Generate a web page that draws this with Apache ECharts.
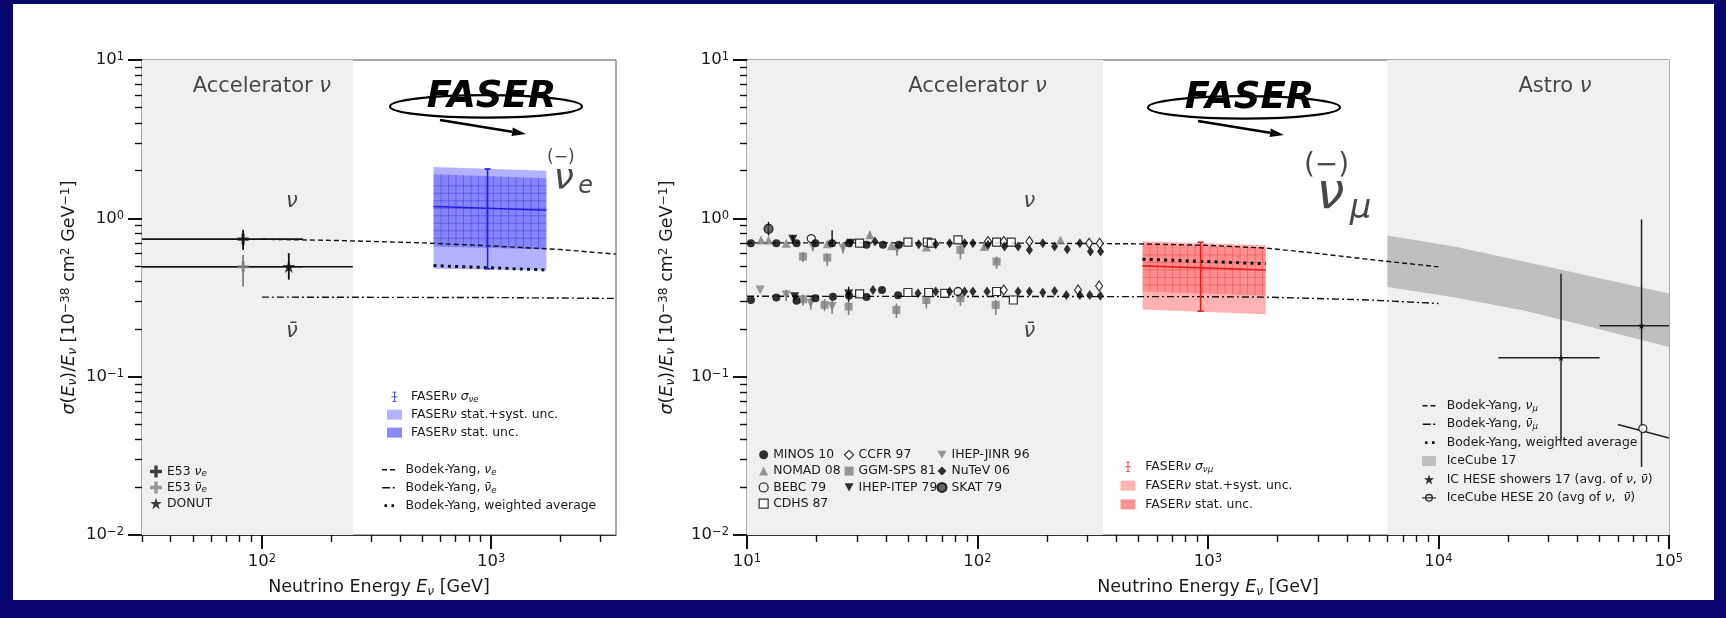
<!DOCTYPE html>
<html>
<head>
<meta charset="utf-8">
<title>FASERnu cross sections</title>
<script src="https://cdn.jsdelivr.net/npm/echarts@6.0.0/dist/echarts.min.js"></script>
<style>
  html, body { margin: 0; padding: 0; background: #06066c; }
  #chart { width: 1726px; height: 618px; }
</style>
</head>
<body>
<div id="chart"></div>
<script>
// axis ranges and decade ticks
const xRangeL = [30, 3500]
const xRangeR = [10, 100000]
const yRange = [0.01, 10]
const xTicksL = [100, 1000]
const xTicksR = [10, 100, 1000, 10000, 100000]
const yTicks = [0.01, 0.1, 1, 10]

// shaded regions, GeV
const accelL = [[30, 250]]
const accelR = [[10, 350]]
const astroR = [[6000, 100000]]

// left panel: electron neutrinos
const e53Nu = [[82.8, 0.739]]
const e53NuY = [[82.8, 0.632, 0.846]]
const e53NuX = [[30, 151, 0.739]]
const e53NuBar = [[82.8, 0.494]]
const e53NuBarY = [[82.8, 0.371, 0.588]]
const e53NuBarX = [[30, 151, 0.494]]
const donut = [[131, 0.495]]
const donutY = [[131, 0.41, 0.603]]
const donutX = [[30, 249, 0.495]]
const byNue = [[100, 0.738], [200, 0.726], [300, 0.715], [500, 0.70], [1000, 0.670], [2000, 0.635], [3500, 0.594]]
const byNueBar = [[100, 0.318], [1000, 0.316], [3500, 0.312]]
const byAvgL = [[560, 0.503], [1740, 0.472]]
// boxes: [E from, E to, top at from, top at to, bottom at from, bottom at to]
const faserNueTotal = [[560, 1740, 2.11, 2.0, 0.48, 0.47]]
const faserNueStat = [[560, 1740, 1.90, 1.79, 0.664, 0.635]]
const faserNueMid = [[560, 1.187], [1740, 1.125]]
const faserNueErr = [[964, 0.48, 2.05]]

// right panel: muon neutrinos, accelerator data (nu and nubar rows)
const minos = [[10.4, 0.697], [13.4, 0.697], [16.4, 0.697], [19.8, 0.697], [23.4, 0.697], [27.7, 0.697], [33.0, 0.68], [38.9, 0.68], [45.6, 0.68],
  [10.4, 0.305], [13.4, 0.316], [16.4, 0.302], [19.8, 0.313], [23.6, 0.320], [27.7, 0.324], [33.0, 0.318], [38.5, 0.353], [45.2, 0.327]]
const minosErr = [[23.4, 0.66, 0.84]]
const nomad = [[11.5, 0.731], [12.4, 0.731], [14.8, 0.697], [22.3, 0.69], [34.1, 0.787], [42.3, 0.670], [60.0, 0.66], [107, 0.663], [229, 0.731]]
const nomadErr = [[34.1, 0.74, 0.83], [107, 0.63, 0.70]]
const bebc = [[19.0, 0.745], [82.3, 0.345]]
const cdhs = [[30.8, 0.697], [49.9, 0.707], [60.6, 0.707], [63.1, 0.697], [82.3, 0.731], [121, 0.707], [140, 0.707],
  [30.8, 0.333], [49.9, 0.340], [61.4, 0.340], [72.1, 0.336], [121, 0.345], [143, 0.305]]
const ccfr = [[111, 0.713], [130, 0.713], [168, 0.713], [305, 0.697], [339, 0.697], [130, 0.353], [273, 0.353], [337, 0.374]]
const ggm = [[17.5, 0.574], [22.3, 0.565], [84.3, 0.632], [121, 0.533],
  [17.5, 0.308], [21.7, 0.284], [27.6, 0.277], [44.5, 0.264], [60.0, 0.305], [84.3, 0.313], [120, 0.284]]
const ggmErr = [[17.5, 0.53, 0.61], [22.3, 0.50, 0.60], [84.3, 0.55, 0.68], [121, 0.48, 0.574],
  [17.5, 0.28, 0.33], [21.7, 0.26, 0.31], [27.6, 0.245, 0.31], [44.5, 0.235, 0.29], [60.0, 0.27, 0.335], [84.3, 0.28, 0.34], [120, 0.245, 0.305]]
const ihepJinr = [[19.3, 0.663], [26.1, 0.648], [44.8, 0.639], [11.4, 0.353], [14.8, 0.328], [18.9, 0.291], [23.4, 0.277]]
const ihepJinrErr = [[19.3, 0.62, 0.71], [26.1, 0.60, 0.70], [44.8, 0.58, 0.69], [14.8, 0.30, 0.355], [18.9, 0.265, 0.32], [23.4, 0.25, 0.305]]
const ihepItep = [[15.8, 0.739], [28.2, 0.697], [16.1, 0.320], [27.6, 0.333]]
const ihepItepErr = [[15.8, 0.69, 0.78], [27.6, 0.30, 0.37]]
const nutev = [[35.9, 0.713], [55.6, 0.687], [65.9, 0.687], [75.7, 0.697], [87.9, 0.697], [95.5, 0.697], [111, 0.68], [131, 0.663],
  [150, 0.663], [168, 0.632], [192, 0.697], [216, 0.663], [245, 0.639], [278, 0.697], [309, 0.617], [342, 0.617],
  [35.2, 0.353], [55.2, 0.336], [65.9, 0.345], [75.7, 0.345], [87.9, 0.345], [95.5, 0.345], [110, 0.345], [150, 0.345],
  [168, 0.345], [192, 0.340], [216, 0.348], [243, 0.328], [278, 0.328], [307, 0.328], [341, 0.324]]
const skat = [[12.4, 0.859]]
const skatErr = [[12.4, 0.78, 0.95]]

const byNumu = [[10, 0.70], [100, 0.70], [500, 0.69], [1000, 0.675], [1800, 0.648], [3000, 0.60], [5000, 0.55], [10000, 0.494]]
const byNumuBar = [[10, 0.322], [1000, 0.32], [1800, 0.318], [5000, 0.305], [10000, 0.29]]
const byAvgR = [[520, 0.552], [1780, 0.517]]
const faserNumuTotal = [[520, 1780, 0.716, 0.675, 0.266, 0.248]]
const faserNumuStat = [[520, 1780, 0.69, 0.655, 0.345, 0.325]]
const faserNumuMid = [[520, 0.501], [1780, 0.472]]
const faserNumuErr = [[929, 0.259, 0.706]]

// astrophysical
const icE = [6000, 12000, 24000, 50000, 100000]
const icLo = [0.369, 0.315, 0.26, 0.199, 0.154]
const icHi = [0.778, 0.66, 0.53, 0.419, 0.335]
const hese17 = [[34000, 0.1316], [76000, 0.21]]
const hese17Y = [[34000, 0.0394, 0.447], [76000, 0.0269, 0.985]]
const hese17X = [[18200, 50000, 0.1316], [50000, 100000, 0.21]]
const hese20 = [[77000, 0.047]]
const hese20Seg = [[60000, 0.0499], [100000, 0.041]]

// text placed in data coordinates: [key, E, value]
const notesL = [['accel', 100, 6.8], ['nu', 135, 1.28], ['nubar', 135, 0.192], ['bar', 2010, 2.43], ['nuBig', 2070, 1.75], ['e', 2580, 1.594]]
const notesR = [['accel', 100, 6.8], ['astro', 32000, 6.8], ['nu', 168, 1.28], ['nubar', 168, 0.192],
  ['barBig', 3270, 2.16], ['nuHuge', 3400, 1.41], ['mu', 4590, 1.148]]

const ink = '#1a1a1a'
const gray = '#808080'
const font = 'DejaVu Sans'

function rich(fs) {
  const sm = Math.round(fs * 0.7 * 10) / 10
  const pad = Math.round(fs * 0.2)
  return {
    t: { fontSize: fs, lineHeight: fs + 2, padding: [pad, 0, pad, 0], color: ink, fontFamily: font },
    i: { fontSize: fs, lineHeight: fs + 2, padding: [pad, 0, pad, 0], fontStyle: 'italic', color: ink, fontFamily: font },
    s: { fontSize: sm, lineHeight: sm, verticalAlign: 'bottom', fontStyle: 'italic', color: ink, fontFamily: font },
    p: { fontSize: sm, lineHeight: sm, verticalAlign: 'top', color: ink, fontFamily: font }
  }
}

const tickRich = {
  b: { fontSize: 16.5, lineHeight: 17, padding: [3, 0, 0, 0], verticalAlign: 'bottom', color: ink, fontFamily: font },
  s: { fontSize: 11.5, lineHeight: 11.5, verticalAlign: 'top', color: ink, fontFamily: font }
}

function pow10Label(v) {
  const e = Math.round(Math.log10(v))
  return '{b|10}{s|' + String(e).replace('-', '−') + '}'
}

function minorTicks(range) {
  const out = []
  for (let d = 0.001; d <= 1e6; d *= 10) {
    for (let m = 2; m < 10; m++) {
      const v = +(m * d).toPrecision(3)
      if (v >= range[0] && v <= range[1]) out.push(v)
    }
  }
  return out
}

const yName = '{i|σ}{t|(}{i|E}{s|ν}{t|)/}{i|E}{s|ν}{t| [10}{p|−38}{t| cm}{p|2}{t| GeV}{p|−1}{t|]}'
const xName = '{t|Neutrino Energy }{i|E}{s|ν}{t| [GeV]}'

function axes(dim, gridIndex, range, majors, name, nameGap) {
  const pos = dim === 'x' ? 'bottom' : 'left'
  const major = {
    type: 'log', logBase: 10, gridIndex, position: pos, min: range[0], max: range[1],
    name, nameLocation: 'middle', nameGap, nameRotate: dim === 'y' ? 90 : 0,
    nameTextStyle: { rich: rich(17.5) },
    axisLine: { show: true, onZero: false, lineStyle: { color: '#333', width: 1 } },
    axisTick: { show: true, customValues: majors, length: 14, lineStyle: { color: '#111', width: 2 } },
    axisLabel: { customValues: majors, formatter: pow10Label, rich: tickRich, margin: 18 },
    splitLine: { show: false }
  }
  const minor = {
    type: 'log', logBase: 10, gridIndex, position: pos, min: range[0], max: range[1],
    axisLine: { show: false, onZero: false },
    axisTick: { show: true, customValues: minorTicks(range), length: 7, lineStyle: { color: '#111', width: 1.4 } },
    axisLabel: { show: false },
    splitLine: { show: false }
  }
  return [major, minor]
}

// series helpers, left panel uses axes 0, right panel axes 2
function shade(xi, rows, color, z) {
  return {
    type: 'custom', xAxisIndex: xi, yAxisIndex: xi, silent: true, z, data: rows,
    renderItem: (p, api) => {
      const a = api.coord([api.value(0), yRange[1]])
      const b = api.coord([api.value(1), yRange[0]])
      return { type: 'rect', shape: { x: a[0], y: a[1], width: b[0] - a[0], height: b[1] - a[1] }, style: { fill: color } }
    }
  }
}

function vErr(name, xi, rows, color, width, cap) {
  return {
    type: 'custom', name, xAxisIndex: xi, yAxisIndex: xi, silent: true, z: 5, clip: true, data: rows,
    itemStyle: { color },
    renderItem: (p, api) => {
      const a = api.coord([api.value(0), api.value(1)])
      const b = api.coord([api.value(0), api.value(2)])
      const kids = [{ type: 'line', shape: { x1: a[0], y1: a[1], x2: b[0], y2: b[1] }, style: { stroke: color, lineWidth: width } }]
      if (cap) {
        kids.push({ type: 'line', shape: { x1: a[0] - cap, y1: a[1], x2: a[0] + cap, y2: a[1] }, style: { stroke: color, lineWidth: width } })
        kids.push({ type: 'line', shape: { x1: b[0] - cap, y1: b[1], x2: b[0] + cap, y2: b[1] }, style: { stroke: color, lineWidth: width } })
      }
      return { type: 'group', children: kids }
    }
  }
}

function hErr(xi, rows, color, width) {
  return {
    type: 'custom', xAxisIndex: xi, yAxisIndex: xi, silent: true, z: 5, clip: true, data: rows,
    renderItem: (p, api) => {
      const a = api.coord([api.value(0), api.value(2)])
      const b = api.coord([api.value(1), api.value(2)])
      return { type: 'line', shape: { x1: a[0], y1: a[1], x2: b[0], y2: b[1] }, style: { stroke: color, lineWidth: width } }
    }
  }
}

function box(name, xi, rows, fill, hatch, z) {
  return {
    type: 'custom', name, xAxisIndex: xi, yAxisIndex: xi, silent: true, z, data: rows,
    itemStyle: { color: fill },
    renderItem: (p, api) => {
      const x0 = api.value(0), x1 = api.value(1)
      const lt = api.coord([x0, api.value(2)]), rt = api.coord([x1, api.value(3)])
      const lb = api.coord([x0, api.value(4)]), rb = api.coord([x1, api.value(5)])
      const kids = [{ type: 'polygon', shape: { points: [lt, rt, rb, lb] }, style: { fill } }]
      if (hatch) {
        const step = 7.5
        const hs = { stroke: hatch, lineWidth: 0.8 }
        for (let x = lt[0] + step; x < rt[0] - 1; x += step) {
          const t = (x - lt[0]) / (rt[0] - lt[0])
          kids.push({ type: 'line', shape: { x1: x, y1: lt[1] + t * (rt[1] - lt[1]), x2: x, y2: lb[1] + t * (rb[1] - lb[1]) }, style: hs })
        }
        const yTop = Math.max(lt[1], rt[1]), yBot = Math.min(lb[1], rb[1])
        for (let y = yTop + step; y < yBot - 1; y += step) {
          kids.push({ type: 'line', shape: { x1: lt[0], y1: y, x2: rt[0], y2: y }, style: hs })
        }
      }
      return { type: 'group', children: kids }
    }
  }
}

function curve(name, xi, data, dash, width, color, z) {
  return {
    type: 'line', name, xAxisIndex: xi, yAxisIndex: xi, data, symbol: 'none', silent: true, z: z || 4,
    lineStyle: { color, width, type: dash, cap: 'butt' }, itemStyle: { color }
  }
}

function points(name, xi, data, symbol, size, style) {
  return { type: 'scatter', name, xAxisIndex: xi, yAxisIndex: xi, data, symbol, symbolSize: size, itemStyle: style, silent: true, z: 6 }
}

const noteStyle = {
  accel: { formatter: '{t|Accelerator }{i|ν}', rich: { t: { fontSize: 21, color: ink }, i: { fontSize: 21, fontStyle: 'italic', color: ink } } },
  astro: { formatter: '{t|Astro }{i|ν}', rich: { t: { fontSize: 21, color: ink }, i: { fontSize: 21, fontStyle: 'italic', color: ink } } },
  nu: { formatter: 'ν', fontSize: 21, fontStyle: 'italic' },
  nubar: { formatter: 'ν̄', fontSize: 21, fontStyle: 'italic' },
  bar: { formatter: '(−)', fontSize: 17 },
  barBig: { formatter: '(−)', fontSize: 28 },
  nuBig: { formatter: 'ν', fontSize: 36, fontStyle: 'italic' },
  e: { formatter: 'e', fontSize: 24, fontStyle: 'italic' },
  nuHuge: { formatter: 'ν', fontSize: 50, fontStyle: 'italic' },
  mu: { formatter: 'μ', fontSize: 34, fontStyle: 'italic' }
}

function notes(xi, rows) {
  return {
    type: 'scatter', xAxisIndex: xi, yAxisIndex: xi, silent: true, z: 10, symbolSize: 1,
    itemStyle: { color: 'rgba(0,0,0,0)' },
    data: rows.map(r => ({
      value: [r[1], r[2]],
      label: Object.assign({ show: true, position: 'inside', color: ink, fontFamily: font }, noteStyle[r[0]])
    }))
  }
}

function iceBand(name, xi, color) {
  return {
    type: 'custom', name, xAxisIndex: xi, yAxisIndex: xi, silent: true, z: 2, clip: true,
    data: icE.map((e, i) => [e, icLo[i], icHi[i]]),
    itemStyle: { color },
    renderItem: (p, api) => {
      if (p.dataIndexInside !== 0) return null
      const top = [], bottom = []
      for (let i = 0; i < p.dataInsideLength; i++) {
        top.push(api.coord([api.value(0, i), api.value(2, i)]))
        bottom.unshift(api.coord([api.value(0, i), api.value(1, i)]))
      }
      return { type: 'polygon', shape: { points: top.concat(bottom) }, style: { fill: color } }
    }
  }
}

// legend icons; the tiny squares at y=-5 and y=5 only set the icon's box so the lines stay thin
const frame = 'M0,-5h0.01v0.01h-0.01zM0,5h0.01v0.01h-0.01z'
const dashIcon = 'path://' + frame + 'M0,-0.7h5v1.4h-5zM8,-0.7h5v1.4h-5z'
const dashDotIcon = 'path://' + frame + 'M0,-0.7h8v1.4h-8zM10.5,-0.7h2v1.4h-2z'
const dotIcon = 'path://' + frame + 'M1.5,-1.3h2.6v2.6h-2.6zM8.5,-1.3h2.6v2.6h-2.6z'
const plusIcon = 'path://M3.6,0h2.8v10h-2.8zM0,3.6h10v2.8h-10z'
const starIcon = 'path://M5,0L6.2,3.6L10,3.6L6.9,5.8L8.1,9.5L5,7.2L1.9,9.5L3.1,5.8L0,3.6L3.8,3.6Z'
const errIcon = 'path://M4.4,0h1.2v16h-1.2zM2,0h6v1.2h-6zM2,14.8h6v1.2h-6zM0,7.4h10v1.2h-10z'
const downTri = 'path://M0,0L10,0L5,9Z'
const ringBar = 'path://M1,5A4,4 0 1,1 9,5A4,4 0 1,1 1,5ZM2.4,5A2.6,2.6 0 1,0 7.6,5A2.6,2.6 0 1,0 2.4,5ZM-2,4.4h14v1.2h-14z'

const blue = '#1f1fe0'
const red = '#e81c1c'
const open = { color: 'rgba(0,0,0,0)', borderColor: '#000', borderWidth: 1.3 }
const white = { color: '#fff', borderColor: '#000', borderWidth: 1.2 }
const lineKey = { color: '#111', borderWidth: 0 }

const labels = {
  'E53 nue': '{t|E53 }{i|ν}{s|e}',
  'E53 nuebar': '{t|E53 }{i|ν̄}{s|e}',
  'FASER nue': '{t|FASER}{i|ν}{t| }{i|σ}{s|νe}',
  'FASER nue total': '{t|FASER}{i|ν}{t| stat.+syst. unc.}',
  'FASER nue stat': '{t|FASER}{i|ν}{t| stat. unc.}',
  'BY nue': '{t|Bodek-Yang, }{i|ν}{s|e}',
  'BY nuebar': '{t|Bodek-Yang, }{i|ν̄}{s|e}',
  'BY avg L': '{t|Bodek-Yang, weighted average}',
  'FASER numu': '{t|FASER}{i|ν}{t| }{i|σ}{s|νμ}',
  'FASER numu total': '{t|FASER}{i|ν}{t| stat.+syst. unc.}',
  'FASER numu stat': '{t|FASER}{i|ν}{t| stat. unc.}',
  'BY numu': '{t|Bodek-Yang, }{i|ν}{s|μ}',
  'BY numubar': '{t|Bodek-Yang, }{i|ν̄}{s|μ}',
  'BY avg R': '{t|Bodek-Yang, weighted average}',
  'IC HESE 17': '{t|IC HESE showers 17 (avg. of }{i|ν}{t|, }{i|ν̄}{t|)}',
  'IC HESE 20': '{t|IceCube HESE 20 (avg of }{i|ν}{t|,  }{i|ν̄}{t|)}'
}

function legend(left, top, gap, w, h, data, padLeft) {
  return {
    orient: 'vertical', left, top, itemGap: gap, itemWidth: w, itemHeight: h, padding: 0,
    selectedMode: false, data,
    formatter: n => labels[n] || '{t|' + n + '}',
    textStyle: { fontSize: 12.4, color: ink, fontFamily: font, rich: rich(12.4), padding: [0, 0, 0, padLeft || 0] }
  }
}

function logo(cx, cy) {
  return {
    type: 'group', x: cx, y: cy, silent: true, children: [
      { type: 'ellipse', shape: { cx: 0, cy: 0, rx: 96, ry: 11.3 }, style: { fill: 'none', stroke: '#000', lineWidth: 2.2 } },
      { type: 'polyline', shape: { points: [[-46, 13.6], [26, 25.4]] }, style: { fill: 'none', stroke: '#000', lineWidth: 2.6 } },
      { type: 'polygon', shape: { points: [[40, 27.6], [25.6, 29.6], [26.8, 21.2]] }, style: { fill: '#000' } },
      { type: 'text', x: 5.5, y: -9, style: { text: 'FASER', font: 'italic bold 37px "DejaVu Sans"', fill: '#000', align: 'center', verticalAlign: 'middle', textAlign: 'center', textVerticalAlign: 'middle' } }
    ]
  }
}

const [xL, xLm] = axes('x', 0, xRangeL, xTicksL, xName, 41)
const [xR, xRm] = axes('x', 1, xRangeR, xTicksR, xName, 41)
const [yL, yLm] = axes('y', 0, yRange, yTicks, yName, 61)
const [yR, yRm] = axes('y', 1, yRange, yTicks, yName, 64)

const option = {
  animation: false,
  backgroundColor: '#06066c',
  textStyle: { fontFamily: font },
  grid: [
    { left: 142, top: 60, width: 474, height: 475, show: true, borderColor: '#555', borderWidth: 1, backgroundColor: 'transparent', outerBoundsMode: 'none' },
    { left: 747, top: 60, width: 922, height: 475, show: true, borderColor: '#555', borderWidth: 1, backgroundColor: 'transparent', outerBoundsMode: 'none' }
  ],
  xAxis: [xL, xLm, xR, xRm],
  yAxis: [yL, yLm, yR, yRm],
  graphic: [
    { type: 'rect', z: -10, silent: true, shape: { x: 13, y: 4, width: 1701, height: 596 }, style: { fill: '#fff' } },
    logo(486, 106.4),
    logo(1244, 107.4)
  ],
  legend: [
    legend(150, 463.5, 0, 12, 12, [
      { name: 'E53 nue', icon: plusIcon },
      { name: 'E53 nuebar', icon: plusIcon },
      { name: 'DONUT', icon: starIcon }]),
    legend(387, 388.8, 1.9, 15, 10, [
      { name: 'FASER nue', icon: errIcon, itemStyle: { color: blue } },
      { name: 'FASER nue total', icon: 'rect' },
      { name: 'FASER nue stat', icon: 'rect', itemStyle: { color: 'rgba(60,60,245,0.6)' } }], 4),
    legend(382, 461.8, 1.9, 16, 10, [
      { name: 'BY nue', icon: dashIcon, itemStyle: lineKey },
      { name: 'BY nuebar', icon: dashDotIcon, itemStyle: lineKey },
      { name: 'BY avg L', icon: dotIcon, itemStyle: lineKey }], 4),
    legend(758.5, 446.8, 0.3, 9, 9, [
      'MINOS 10', 'NOMAD 08',
      { name: 'BEBC 79', itemStyle: open }, { name: 'CDHS 87', itemStyle: white }]),
    legend(844, 446.8, 0.3, 9, 9, [
      { name: 'CCFR 97', itemStyle: white }, 'GGM-SPS 81', 'IHEP-ITEP 79']),
    legend(936.5, 446.8, 0.3, 9, 9, ['IHEP-JINR 96', 'NuTeV 06', 'SKAT 79']),
    legend(1120.5, 458.8, 2.8, 15, 10, [
      { name: 'FASER numu', icon: errIcon, itemStyle: { color: red } },
      { name: 'FASER numu total', icon: 'rect' },
      { name: 'FASER numu stat', icon: 'rect', itemStyle: { color: 'rgba(245,60,60,0.55)' } }], 4.8),
    legend(1422, 397.8, 2.4, 14, 10, [
      { name: 'BY numu', icon: dashIcon, itemStyle: lineKey },
      { name: 'BY numubar', icon: dashDotIcon, itemStyle: lineKey },
      { name: 'BY avg R', icon: dotIcon, itemStyle: lineKey },
      { name: 'IceCube 17', icon: 'rect' },
      { name: 'IC HESE 17', icon: starIcon },
      { name: 'IC HESE 20', icon: ringBar, itemStyle: { color: '#000', borderWidth: 0 } }], 5.7)
  ],
  series: [
    // left panel
    shade(0, accelL, '#f0f0f0', 1),
    box('FASER nue total', 0, faserNueTotal, 'rgba(0,0,255,0.3)', null, 3),
    box('FASER nue stat', 0, faserNueStat, 'rgba(0,0,255,0.25)', 'rgba(0,0,190,0.35)', 3),
    curve('BY nue', 0, byNue, [5, 3], 1.4, '#111'),
    curve('BY nuebar', 0, byNueBar, [7, 3, 2, 3], 1.4, '#111'),
    curve('BY avg L', 0, byAvgL, [3, 4.2], 3, '#111'),
    curve('faser nue mid', 0, faserNueMid, 'solid', 1.6, blue, 5),
    vErr('FASER nue', 0, faserNueErr, blue, 1.6, 3),
    hErr(0, e53NuX, '#111', 1.6),
    hErr(0, e53NuBarX, gray, 1.6),
    hErr(0, donutX, '#111', 1.6),
    vErr('e53 nu err', 0, e53NuY, '#111', 1.8),
    vErr('e53 nubar err', 0, e53NuBarY, gray, 1.8),
    vErr('donut err', 0, donutY, '#111', 1.8),
    points('E53 nue', 0, e53Nu, plusIcon, 11, { color: '#111' }),
    points('E53 nuebar', 0, e53NuBar, plusIcon, 11, { color: gray }),
    points('DONUT', 0, donut, starIcon, 13, { color: '#111' }),
    notes(0, notesL),

    // right panel
    shade(2, accelR, '#f0f0f0', 1),
    shade(2, astroR, '#f0f0f0', 1),
    iceBand('IceCube 17', 2, '#bfbfbf'),
    box('FASER numu total', 2, faserNumuTotal, 'rgba(255,0,0,0.3)', null, 3),
    box('FASER numu stat', 2, faserNumuStat, 'rgba(255,0,0,0.2)', 'rgba(200,0,0,0.3)', 3),
    curve('BY numu', 2, byNumu, [5, 3], 1.4, '#111'),
    curve('BY numubar', 2, byNumuBar, [7, 3, 2, 3], 1.4, '#111'),
    curve('BY avg R', 2, byAvgR, [3, 4.2], 3, '#111'),
    curve('faser numu mid', 2, faserNumuMid, 'solid', 1.6, red, 5),
    vErr('FASER numu', 2, faserNumuErr, red, 1.6, 3),
    vErr('minos err', 2, minosErr, '#111', 1.4),
    vErr('nomad err', 2, nomadErr, gray, 1.4),
    vErr('ggm err', 2, ggmErr, gray, 1.6),
    vErr('jinr err', 2, ihepJinrErr, gray, 1.6),
    vErr('itep err', 2, ihepItepErr, '#111', 1.4),
    vErr('skat err', 2, skatErr, '#111', 1.4),
    points('NOMAD 08', 2, nomad, 'triangle', 9, { color: gray }),
    points('GGM-SPS 81', 2, ggm, 'rect', 8, { color: gray }),
    points('IHEP-JINR 96', 2, ihepJinr, downTri, 9, { color: gray }),
    points('MINOS 10', 2, minos, 'circle', 8, { color: '#000' }),
    points('IHEP-ITEP 79', 2, ihepItep, downTri, 9, { color: '#000' }),
    points('BEBC 79', 2, bebc, 'circle', 8, open),
    points('CDHS 87', 2, cdhs, 'rect', 8, white),
    points('CCFR 97', 2, ccfr, 'diamond', [7, 10], white),
    points('NuTeV 06', 2, nutev, 'diamond', [7, 10], { color: '#000' }),
    points('SKAT 79', 2, skat, 'circle', 9, { color: '#444', borderColor: '#000', borderWidth: 1.2 }),
    hErr(2, hese17X, '#222', 1.5),
    vErr('hese17 err', 2, hese17Y, '#222', 1.5),
    curve('hese20 seg', 2, hese20Seg, 'solid', 1.5, '#222', 5),
    points('IC HESE 17', 2, hese17, starIcon, 7, { color: '#000' }),
    points('IC HESE 20', 2, hese20, 'circle', 8, { color: '#fff', borderColor: '#000', borderWidth: 1.3 }),
    notes(2, notesR)
  ]
}

const chart = echarts.init(document.getElementById('chart'), null, { renderer: 'canvas' })
chart.setOption(option)
</script>
</body>
</html>
